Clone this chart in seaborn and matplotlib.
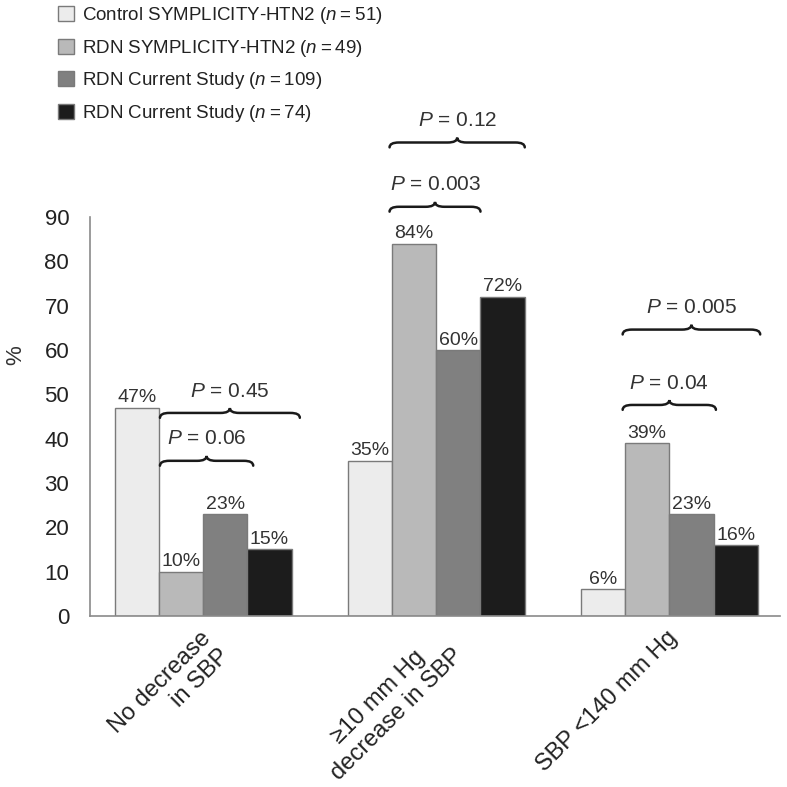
import seaborn as sns
import matplotlib.pyplot as plt
import numpy as np
import pandas as pd
from matplotlib.path import Path
from matplotlib.patches import PathPatch
from matplotlib.transforms import ScaledTranslation

outcomes = ['No decrease\nin SBP', '≥10 mm Hg\ndecrease in SBP', 'SBP <140 mm Hg']
outcome_align = ['right', 'center', 'center']
groups = ['Control SYMPLICITY-HTN2 ($\\it{n}$\u2009=\u200951)',
          'RDN SYMPLICITY-HTN2 ($\\it{n}$\u2009=\u200949)',
          'RDN Current Study ($\\it{n}$\u2009=\u2009109)',
          'RDN Current Study ($\\it{n}$\u2009=\u200974)']
control_htn2 = [47, 35, 6]
rdn_htn2 = [10, 84, 39]
rdn_current_109 = [23, 60, 23]
rdn_current_74 = [15, 72, 16]
bar_colors = ['#ececec', '#b9b9b9', '#808080', '#1c1c1c']

# p-value brackets: group index, x start/end offsets, height, label
brace_groups = [0, 0, 1, 1, 2, 2]
brace_x0 = [-0.185, -0.185, -0.2, -0.2, -0.2, -0.2]
brace_x1 = [0.215, 0.415, 0.19, 0.38, 0.2, 0.39]
brace_y = [35.0, 45.8, 92.3, 106.8, 47.6, 64.6]
brace_labels = ['0.06', '0.45', '0.003', '0.12', '0.04', '0.005']

rows = []
for g, vals in zip(groups, [control_htn2, rdn_htn2, rdn_current_109, rdn_current_74]):
    for o, v in zip(outcomes, vals):
        rows.append({'outcome': o, 'group': g, 'pct': v})
df = pd.DataFrame(rows)

sns.set_style('white')
plt.rcParams['font.family'] = ['Liberation Sans', 'DejaVu Sans']
plt.rcParams['mathtext.fontset'] = 'custom'
plt.rcParams['mathtext.it'] = 'Liberation Sans:italic'
plt.rcParams['mathtext.rm'] = 'Liberation Sans'

fig = plt.figure(figsize=(7.87, 7.87), dpi=100)
ax = fig.add_axes([0.1144, 0.2173, 0.877, 0.507])

sns.barplot(data=df, x='outcome', y='pct', hue='group', palette=bar_colors,
            width=0.76, edgecolor='#7a7a7a', linewidth=1, ax=ax)

for c in ax.containers:
    ax.bar_label(c, fmt='%g%%', padding=1, fontsize=14, color='#333333')


def draw_brace(ax, x0, x1, y, h=1.1, d=0.04):
    xm = (x0 + x1) / 2
    verts = [(x0, y - h), (x0, y), (x0 + d, y), (xm - d, y), (xm, y), (xm, y + h),
             (xm, y), (xm + d, y), (x1 - d, y), (x1, y), (x1, y - h)]
    codes = [Path.MOVETO, Path.CURVE3, Path.CURVE3, Path.LINETO, Path.CURVE3, Path.CURVE3,
             Path.CURVE3, Path.CURVE3, Path.LINETO, Path.CURVE3, Path.CURVE3]
    ax.add_patch(PathPatch(Path(verts, codes), fill=False, lw=1.8, color='#1a1a1a',
                           capstyle='round', clip_on=False))


for g, a, b, y, lab in zip(brace_groups, brace_x0, brace_x1, brace_y, brace_labels):
    draw_brace(ax, g + a, g + b, y)
    ax.text(g + (a + b) / 2, y + 3.7, '$\\it{P}$ = ' + lab, ha='center', va='baseline',
            fontsize=15, color='#333333', clip_on=False)

ax.set_xlim(-0.485, 2.476)
ax.set_ylim(0, 90)
ax.set_yticks(range(0, 91, 10))
ax.set_xlabel('')
ax.set_ylabel('%', fontsize=16, color='#333333')
ax.yaxis.set_label_coords(-0.092, 0.655)
sns.despine(ax=ax)
for s in ['left', 'bottom']:
    ax.spines[s].set_color('#8a8a8a')
    ax.spines[s].set_linewidth(1.2)
ax.tick_params(axis='y', length=6, width=1, color='#8a8a8a', labelsize=16, labelcolor='#222222', pad=9)
ax.tick_params(axis='x', length=0, labelbottom=False)

# rotated category labels
shift = ScaledTranslation(-3 / 100, -11 / 100, fig.dpi_scale_trans)
for i, (lab, al) in enumerate(zip(outcomes, outcome_align)):
    ax.text(i, 0, lab, transform=ax.get_xaxis_transform() + shift, rotation=45,
            rotation_mode='anchor', ha='right', va='top', multialignment=al,
            fontsize=17, color='#222222', linespacing=1.2)

ax.legend(loc='upper left', bbox_to_anchor=(0.052, 1.015), bbox_transform=fig.transFigure,
          frameon=False, fontsize=13.5, handlelength=0.85, handleheight=0.85,
          handletextpad=0.45, labelspacing=0.62, labelcolor='#222222')

fig.savefig('out.png', dpi=100)
